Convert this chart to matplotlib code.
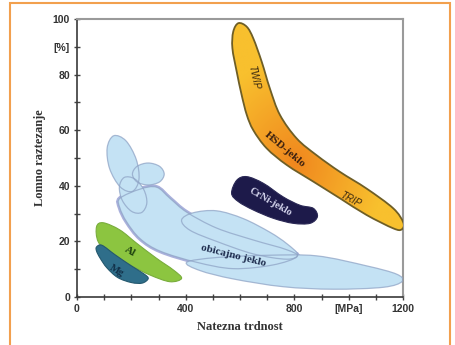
import numpy as np
import matplotlib
matplotlib.use("Agg")
import matplotlib.pyplot as plt
from matplotlib.path import Path
from matplotlib.patches import PathPatch, Rectangle

# Material property fields: outlines as (tensile strength [MPa], elongation [%])
twip_hsd_trip = [(594, 98.5), (575, 95.4), (572, 89.5), (588, 81), (606, 72.7),
                 (625, 65.5), (649, 60), (698, 53.5), (772, 47.5), (870, 41.5),
                 (968, 35.5), (1066, 29.5), (1164, 24.7), (1195, 24.3),
                 (1201, 26.8), (1164, 31.9), (1066, 39), (968, 45), (882, 51),
                 (809, 57), (747, 65.5), (710, 75), (680, 84.6), (649, 93),
                 (625, 97.2)]
crni_steel = [(569, 37.3), (588, 42), (625, 43.3), (686, 40.9), (759, 36),
              (821, 33), (870, 31.9), (885, 28.9), (858, 26.5), (796, 26.5),
              (723, 28.3), (649, 31.3), (594, 34.3)]
aluminium = [(72, 25.3), (97, 26.7), (158, 24.1), (220, 19.3), (293, 13.9),
             (355, 9.7), (385, 6.7), (342, 5.5), (269, 7.9), (195, 11.5),
             (121, 15.7), (78, 19.9)]
magnesium = [(72, 18), (92, 18.6), (140, 15.2), (200, 11.2), (248, 8.2),
             (262, 6.6), (240, 5.0), (200, 5.2), (150, 7.0), (110, 10.5),
             (85, 14), (72, 16.5)]
# plain steel: overlapping grade fields
plain_steel = [
    [(158, 35.5), (232, 38.8), (293, 39.5), (342, 35.5), (404, 30.5), (514, 24.8),
     (649, 20.5), (772, 17.0), (810, 14.5), (720, 11.5), (575, 10.2), (440, 12.5),
     (306, 16.5), (232, 21.0), (183, 27.0), (158, 32.0)],
    [(404, 12.5), (514, 14.2), (698, 15.0), (882, 14.8), (1066, 11.2), (1177, 8.2),
     (1197, 5.6), (1128, 3.5), (944, 2.8), (759, 3.7), (575, 6.5), (453, 9.5)],
    [(385, 27.7), (428, 30.3), (514, 31.0), (612, 28.2), (710, 23.3), (772, 19.2),
     (812, 15.3), (772, 13.6), (649, 15.5), (514, 20.0), (416, 24.0)],
    [(174, 43.0), (212, 42.5), (246, 38.6), (257, 33.8), (238, 30.4), (201, 30.8),
     (167, 34.7), (156, 39.6)],
    [(321, 44.2), (304, 47.0), (262, 48.2), (221, 47.0), (204, 44.2), (221, 41.4),
     (262, 40.3), (304, 41.4)],
    [(135, 58.0), (180, 56.2), (218, 49.5), (228, 42.3), (204, 38.0), (159, 39.6),
     (120, 46.2), (111, 53.6)],
]

x_ticks = [0, 400, 800, 1000, 1200]
x_tick_labels = ["0", "400", "800", "[MPa]", "1200"]
y_ticks = [0, 20, 40, 60, 80, 90, 100]
y_tick_labels = ["0", "20", "40", "60", "80", "[%]", "100"]


def smooth_path(pts):
    """Closed Catmull-Rom outline converted to cubic Bezier segments."""
    P = np.asarray(pts, dtype=float)
    n = len(P)
    verts = [P[0]]
    codes = [Path.MOVETO]
    for i in range(n):
        p0, p1, p2, p3 = P[i - 1], P[i], P[(i + 1) % n], P[(i + 2) % n]
        c1 = p1 + (p2 - p0) / 6.0
        c2 = p2 - (p3 - p1) / 6.0
        verts += [c1, c2, p2]
        codes += [Path.CURVE4] * 3
    verts.append(P[0])
    codes.append(Path.CLOSEPOLY)
    return Path(np.array(verts), codes)


fig = plt.figure(figsize=(4.55, 3.45), dpi=100)
fig.patch.set_facecolor("white")
ax = fig.add_axes([77 / 455, 1 - 297 / 345, 326 / 455, 278 / 345])
ax.set_xlim(0, 1200)
ax.set_ylim(0, 100)

# plain steel fields: lavender rim under the main band, fills, then outlines
steel_fill = "#c4e2f4"
steel_edge = "#8fa4c6"
ax.add_patch(PathPatch(smooth_path(plain_steel[0]), facecolor="none",
                       edgecolor="#aab1dc", lw=3.0, zorder=1.5))
for pts in plain_steel:
    ax.add_patch(PathPatch(smooth_path(pts), facecolor=steel_fill, edgecolor="none",
                           zorder=2))
for pts in plain_steel:
    ax.add_patch(PathPatch(smooth_path(pts), facecolor="none", edgecolor=steel_edge,
                           lw=0.9, alpha=0.75, zorder=3))

# Al and Mg
ax.add_patch(PathPatch(smooth_path(aluminium), facecolor="#8cc540", edgecolor="#79ad3c",
                       lw=0.8, zorder=4))
ax.add_patch(PathPatch(smooth_path(magnesium), facecolor="#2f6e8a", edgecolor="#24586e",
                       lw=0.8, zorder=5))

# CrNi steel
ax.add_patch(PathPatch(smooth_path(crni_steel), facecolor="#1d1a4a", edgecolor="#2a2855",
                       lw=0.8, zorder=4))

# TWIP / HSD / TRIP band with a yellow-orange gradient
band = PathPatch(smooth_path(twip_hsd_trip), facecolor="none", edgecolor="#6e5e26",
                 lw=1.3, zorder=6)
ax.add_patch(band)
gx, gy = np.meshgrid(np.linspace(540, 1220, 240), np.linspace(20, 100, 240))
d = np.sqrt(((gx - 800) / 330) ** 2 + ((gy - 48) / 38) ** 2)
t = np.clip(d, 0, 1)[..., None]
orange = np.array([240, 135, 30]) / 255
yellow = np.array([248, 192, 46]) / 255
img = orange * (1 - t) + yellow * t
im = ax.imshow(img, extent=(540, 1220, 20, 100), origin="lower", aspect="auto",
               zorder=5, interpolation="bilinear")
im.set_clip_path(band)

serif = ["Liberation Serif", "DejaVu Serif"]
sans = ["Liberation Sans", "DejaVu Sans"]

ax.text(649, 79, "TWIP", rotation=-78, fontsize=7, style="italic", family=sans,
        color="#3b2a10", ha="center", va="center", zorder=7)
ax.text(766, 53, "HSD-jeklo", rotation=-40, fontsize=8, weight="bold", family=serif,
        color="#3a2010", ha="center", va="center", zorder=7)
ax.text(1005, 35, "TRIP", rotation=-28, fontsize=7, style="italic", family=sans,
        color="#3b2a10", ha="center", va="center", zorder=7)
ax.text(712, 34, "CrNi-jeklo", rotation=-30, fontsize=7.5, weight="bold", family=serif,
        color="#d6d6ee", ha="center", va="center", zorder=7)
ax.text(575, 15, "obicajno jeklo", rotation=-14, fontsize=8, weight="bold", family=serif,
        color="#1c2a4c", ha="center", va="center", zorder=7)
ax.text(195, 16.5, "Al", rotation=-30, fontsize=8, weight="bold", family=serif,
        color="#1f4510", ha="center", va="center", zorder=7)
ax.text(146, 9.3, "Mg", rotation=-30, fontsize=7.5, weight="bold", family=serif,
        color="#123048", ha="center", va="center", zorder=7)

# axes styling
for side in ("top", "right"):
    ax.spines[side].set_color("#9a9a9a")
    ax.spines[side].set_linewidth(1.5)
for side in ("left", "bottom"):
    ax.spines[side].set_color("#3a3a3a")
    ax.spines[side].set_linewidth(1.2)

ax.set_xticks(x_ticks)
ax.set_xticklabels(x_tick_labels)
ax.set_xticks(np.arange(100, 1200, 100), minor=True)
ax.set_yticks(y_ticks)
ax.set_yticklabels(y_tick_labels)
ax.set_yticks([10, 30, 50, 70], minor=True)
ax.tick_params(which="both", direction="inout", length=4, width=1, color="#444444")
ax.tick_params(axis="both", which="major", labelsize=7.5, pad=3)
for lab in ax.get_xticklabels() + ax.get_yticklabels():
    lab.set_family(sans)
    lab.set_weight("bold")
    lab.set_color("#333333")

ax.set_xlabel("Natezna trdnost", fontsize=9, weight="bold", family=serif,
              color="#333333", labelpad=5)
ax.set_ylabel("Lomno raztezanje", fontsize=9, weight="bold", family=serif,
              color="#333333", labelpad=5)

# orange frame around the figure
fig.patches.append(Rectangle((10 / 455, -0.05), 440 / 455, 1.05 - 3 / 345,
                             transform=fig.transFigure, fill=False,
                             edgecolor="#f2a04e", lw=1.5))

fig.savefig("out.png", dpi=100)
